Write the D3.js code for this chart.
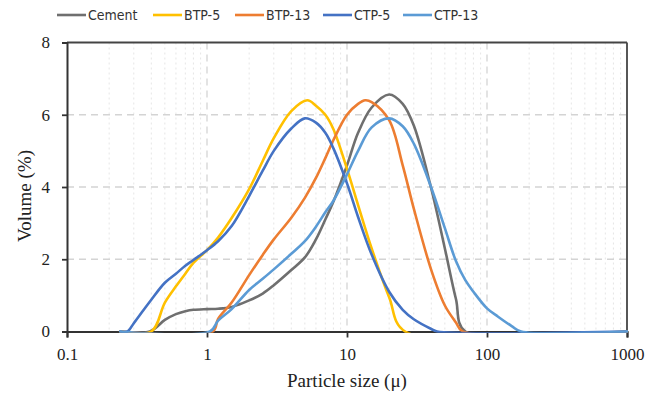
<!DOCTYPE html>
<html><head><meta charset="utf-8">
<script src="https://cdn.jsdelivr.net/npm/d3@7"></script>
<style>body{margin:0;background:#fff}svg{display:block}</style>
</head><body><svg id="c" width="662" height="396"></svg>
<script>
// ---- data ----
const seriesNames = ["Cement", "BTP-5", "BTP-13", "CTP-5", "CTP-13"];
const seriesColors = ["#6f6f6f", "#ffc000", "#ed7d31", "#4472c4", "#5b9bd5"];

const cementSize = [0.24, 0.39, 0.5, 0.6, 0.7, 0.8, 1, 1.2, 1.5, 2, 2.5, 3, 4, 5, 6, 7, 8, 10, 12, 15, 20, 25, 30, 40, 50, 60, 70, 1000];
const cementVol  = [0, 0, 0.32, 0.48, 0.56, 0.6, 0.62, 0.63, 0.68, 0.86, 1.05, 1.28, 1.7, 2.05, 2.55, 3.1, 3.6, 4.6, 5.5, 6.2, 6.56, 6.3, 5.7, 3.95, 2.3, 0.9, 0, 0];

const btp5Size = [0.24, 0.4, 0.5, 0.6, 0.7, 0.8, 1, 1.2, 1.5, 2, 2.5, 3, 4, 5.2, 6, 7, 8, 10, 12, 15, 20, 26, 1000];
const btp5Vol  = [0, 0, 0.8, 1.25, 1.6, 1.9, 2.25, 2.6, 3.14, 3.94, 4.72, 5.35, 6.1, 6.4, 6.25, 6.0, 5.6, 4.5, 3.5, 2.3, 0.95, 0, 0];

const btp13Size = [0.24, 1.1, 1.2, 1.5, 2, 2.5, 3, 4, 5, 6, 7, 8, 10, 12, 13.5, 15, 20, 25, 30, 40, 50, 60, 67, 1000];
const btp13Vol  = [0, 0, 0.35, 0.8, 1.56, 2.12, 2.55, 3.15, 3.7, 4.25, 4.8, 5.3, 6.0, 6.3, 6.4, 6.35, 5.85, 4.6, 3.4, 1.7, 0.72, 0.25, 0, 0];

const ctp5Size = [0.24, 0.27, 0.3, 0.35, 0.4, 0.5, 0.6, 0.7, 0.8, 1, 1.2, 1.5, 2, 2.5, 3, 4, 5, 6, 7, 8, 10, 12, 15, 20, 25, 30, 40, 44, 1000];
const ctp5Vol  = [0, 0, 0.23, 0.58, 0.88, 1.35, 1.6, 1.82, 1.98, 2.25, 2.5, 2.92, 3.75, 4.45, 5.0, 5.62, 5.9, 5.78, 5.5, 5.07, 4.1, 3.17, 2.13, 1.1, 0.6, 0.34, 0.07, 0, 0];

const ctp13Size = [0.24, 1.05, 1.2, 1.5, 2, 2.5, 3, 4, 5, 6, 7, 8, 10, 12, 15, 20, 25, 30, 40, 50, 60, 70, 80, 100, 120, 150, 175, 1000];
const ctp13Vol  = [0, 0, 0.3, 0.62, 1.15, 1.46, 1.72, 2.15, 2.5, 2.9, 3.3, 3.62, 4.35, 5.0, 5.65, 5.9, 5.68, 5.2, 3.98, 2.86, 1.95, 1.42, 1.1, 0.64, 0.41, 0.15, 0, 0];

const xTickValues = [0.1, 1, 10, 100, 1000];
const xTickLabels = ["0.1", "1", "10", "100", "1000"];
const yTickValues = [0, 2, 4, 6, 8];
const xTitle = "Particle size (\u03bc)";
const yTitle = "Volume (%)";

const sizes = [cementSize, btp5Size, btp13Size, ctp5Size, ctp13Size];
const vols  = [cementVol, btp5Vol, btp13Vol, ctp5Vol, ctp13Vol];

// ---- layout ----
const L = 67, R = 627, T = 42.5, B = 331.5;
const svg = d3.select("#c");
const x = d3.scaleLog().domain([0.1, 1000]).range([L, R]);
const y = d3.scaleLinear().domain([0, 8]).range([B, T]);

svg.append("defs").append("clipPath").attr("id", "plotclip")
  .append("rect").attr("x", L - 2).attr("y", T - 10).attr("width", R - L + 4).attr("height", B - T + 11.3);

// grid
const g = svg.append("g");
x.ticks().forEach(v => {
  const lv = Math.log10(v);
  const isMajor = Math.abs(lv - Math.round(lv)) < 1e-9;
  if (v <= 0.1 || v >= 1000) return;
  g.append("line").attr("x1", x(v)).attr("x2", x(v)).attr("y1", T).attr("y2", B)
    .attr("stroke", isMajor ? "#d4d4d4" : "#e6e6e6")
    .attr("stroke-width", isMajor ? 1.3 : 1)
    .attr("stroke-dasharray", isMajor ? "7,5" : "2,3");
});
yTickValues.filter(v => v > 0 && v < 8).forEach(v => {
  g.append("line").attr("x1", L).attr("x2", R).attr("y1", y(v)).attr("y2", y(v))
    .attr("stroke", "#d4d4d4").attr("stroke-width", 1.3).attr("stroke-dasharray", "7,5");
});

// frame (top, right)
svg.append("line").attr("x1", L).attr("x2", R).attr("y1", T).attr("y2", T).attr("stroke", "#444").attr("stroke-width", 1.8);
svg.append("line").attr("x1", R).attr("x2", R).attr("y1", T).attr("y2", B).attr("stroke", "#444").attr("stroke-width", 1.8);

// axes
const axL = svg.append("g").attr("transform", `translate(${L},0)`)
  .call(d3.axisLeft(y).tickValues(yTickValues).tickSize(5).tickPadding(12));
const axB = svg.append("g").attr("transform", `translate(0,${B})`)
  .call(d3.axisBottom(x).tickValues(xTickValues).tickFormat((d, i) => xTickLabels[i]).tickSize(6).tickPadding(10));
[axL, axB].forEach(a => {
  a.select(".domain").attr("stroke", "#333").attr("stroke-width", 2);
  a.selectAll(".tick line").attr("stroke", "#333").attr("stroke-width", 1.8);
  a.selectAll("text").attr("font-family", "'Liberation Serif','Times New Roman',serif")
    .attr("font-size", 17).attr("fill", "#222");
});

// series
const line = d3.line().curve(d3.curveCatmullRom.alpha(0.5)).x(d => x(d[0])).y(d => y(d[1]));
const sg = svg.append("g").attr("clip-path", "url(#plotclip)");
seriesNames.forEach((name, i) => {
  const pts = sizes[i].map((s, k) => [s, vols[i][k]]);
  sg.append("path").datum(pts).attr("d", line)
    .attr("fill", "none").attr("stroke", seriesColors[i]).attr("stroke-width", 2.6)
    .attr("stroke-linejoin", "round").attr("stroke-linecap", "round");
});

// titles
svg.append("text").attr("x", (L + R) / 2).attr("y", 387).attr("text-anchor", "middle")
  .attr("font-family", "'Liberation Serif','Times New Roman',serif").attr("font-size", 19).attr("fill", "#222")
  .text(xTitle);
svg.append("text").attr("transform", "translate(31,196) rotate(-90)").attr("text-anchor", "middle")
  .attr("font-family", "'Liberation Serif','Times New Roman',serif").attr("font-size", 19).attr("fill", "#222")
  .text(yTitle);

// legend
const legX = [57, 153, 235, 323, 403];
const lg = svg.append("g");
seriesNames.forEach((name, i) => {
  lg.append("line").attr("x1", legX[i]).attr("x2", legX[i] + 29).attr("y1", 15).attr("y2", 15)
    .attr("stroke", seriesColors[i]).attr("stroke-width", 2.6);
  lg.append("text").attr("x", legX[i] + 31).attr("y", 15).attr("dy", "0.35em")
    .attr("font-family", "'Liberation Sans Narrow','DejaVu Sans Condensed',Lato,sans-serif")
    .attr("font-size", 14).attr("fill", "#333").text(name);
});
</script>
</body></html>
